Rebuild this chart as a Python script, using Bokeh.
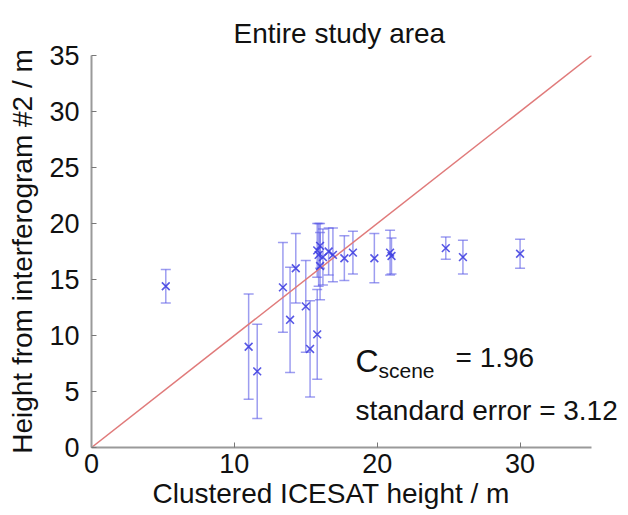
from bokeh.plotting import figure
from bokeh.models import Whisker, ColumnDataSource, Label, FixedTicker, Title
from bokeh.embed import file_html
from bokeh.resources import INLINE

icesat = [5.2, 11.0, 11.6, 13.4, 13.9, 14.3, 15.0, 15.3, 15.8,
          15.8, 15.9, 16.0, 16.0, 16.2, 16.6, 16.9, 17.7, 18.3, 19.8,
          20.9, 21.0, 24.8, 26.0, 30.0]
ifg = [14.4, 9.0, 6.8, 14.3, 11.4, 16.0, 12.6, 8.8, 10.1,
       17.6, 17.2, 18.0, 16.2, 17.0, 17.5, 17.2, 16.9, 17.4, 16.9,
       17.4, 17.1, 17.8, 17.0, 17.3]
err = [1.5, 4.7, 4.2, 4.0, 4.7, 3.1, 4.1, 4.3, 4.0,
       2.4, 2.8, 2.0, 3.0, 2.5, 2.1, 2.4, 2.0, 1.9, 2.2,
       2.0, 1.6, 1.0, 1.5, 1.3]
x_ticks = [0, 10, 20, 30]
y_ticks = [0, 5, 10, 15, 20, 25, 30, 35]
line_xy = [0, 35]

FONT = "Liberation Sans"

src = ColumnDataSource(dict(
    x=icesat, y=ifg,
    lo=[v - e for v, e in zip(ifg, err)],
    hi=[v + e for v, e in zip(ifg, err)],
))

# axes box spans 0..35 over 500 px; the frame is extended to the right edge
# so that the annotation text is not clipped (as in the reference)
x_end = 35 * (628 - 91) / 500

p = figure(width=628, height=515, x_range=(0, x_end), y_range=(0, 35),
           output_backend="svg", toolbar_location=None,
           min_border_left=91, min_border_right=0, min_border_top=55,
           min_border_bottom=68)

p.title.text = "Entire study area"
p.title.align = "left"
p.title.offset = 142
p.title.text_font = FONT
p.title.text_font_size = "28px"
p.title.text_font_style = "normal"
p.title.text_color = "#111111"
p.title.vertical_align = "top"
p.title.standoff = 10

p.outline_line_color = None
p.grid.visible = False
p.background_fill_color = "white"
p.border_fill_color = "white"

for ax in (p.xaxis, p.yaxis):
    ax.axis_line_color = "#9a9a9a"
    ax.axis_line_width = 2
    ax.major_tick_in = 5
    ax.major_tick_out = 0
    ax.major_tick_line_color = "#777777"
    ax.minor_tick_line_color = None
    ax.major_label_text_font = FONT
    ax.major_label_text_font_size = "27px"
    ax.major_label_text_color = "#111111"
    ax.axis_label_text_font = FONT
    ax.axis_label_text_font_size = "28px"
    ax.axis_label_text_font_style = "normal"
    ax.axis_label_text_color = "#111111"

p.xaxis.bounds = (0, 35)
p.xaxis.ticker = FixedTicker(ticks=x_ticks)
p.yaxis.ticker = FixedTicker(ticks=y_ticks)
p.yaxis.axis_label = "Height from interferogram #2 / m"
p.xaxis.major_label_standoff = 6
p.yaxis.major_label_standoff = 12
p.yaxis.axis_label_standoff = 8

xlabel = Title(text="Clustered ICESAT height / m", align="left", offset=61,
               text_font=FONT, text_font_size="28px", text_font_style="normal",
               text_color="#111111", standoff=0)
p.add_layout(xlabel, "below")

p.line(line_xy, line_xy, line_color="#e07a7a", line_width=1.5)

wh = Whisker(source=src, base="x", upper="hi", lower="lo", dimension="height",
             line_color="#5b5be6", line_alpha=0.6, line_width=1.5)
for head in (wh.upper_head, wh.lower_head):
    head.size = 10
    head.line_color = "#5b5be6"
    head.line_alpha = 0.6
    head.line_width = 1.5
p.add_layout(wh)

p.scatter("x", "y", source=src, marker="x", size=11, line_color="#3a3ae0",
          line_width=1.6, line_alpha=0.85)

p.add_layout(Label(x=264, y=87, x_units="screen", y_units="screen", text="C",
                   text_font=FONT, text_font_size="32px", text_color="#111111",
                   text_baseline="alphabetic"))
p.add_layout(Label(x=287, y=77, x_units="screen", y_units="screen", text="scene",
                   text_font=FONT, text_font_size="21px", text_color="#111111",
                   text_baseline="alphabetic"))
p.add_layout(Label(x=364, y=90, x_units="screen", y_units="screen", text="= 1.96",
                   text_font=FONT, text_font_size="28px", text_color="#111111",
                   text_baseline="alphabetic"))
p.add_layout(Label(x=264, y=37, x_units="screen", y_units="screen",
                   text="standard error = 3.12",
                   text_font=FONT, text_font_size="28px", text_color="#111111",
                   text_baseline="alphabetic"))

open("out.html", "w").write(file_html(p, INLINE))
